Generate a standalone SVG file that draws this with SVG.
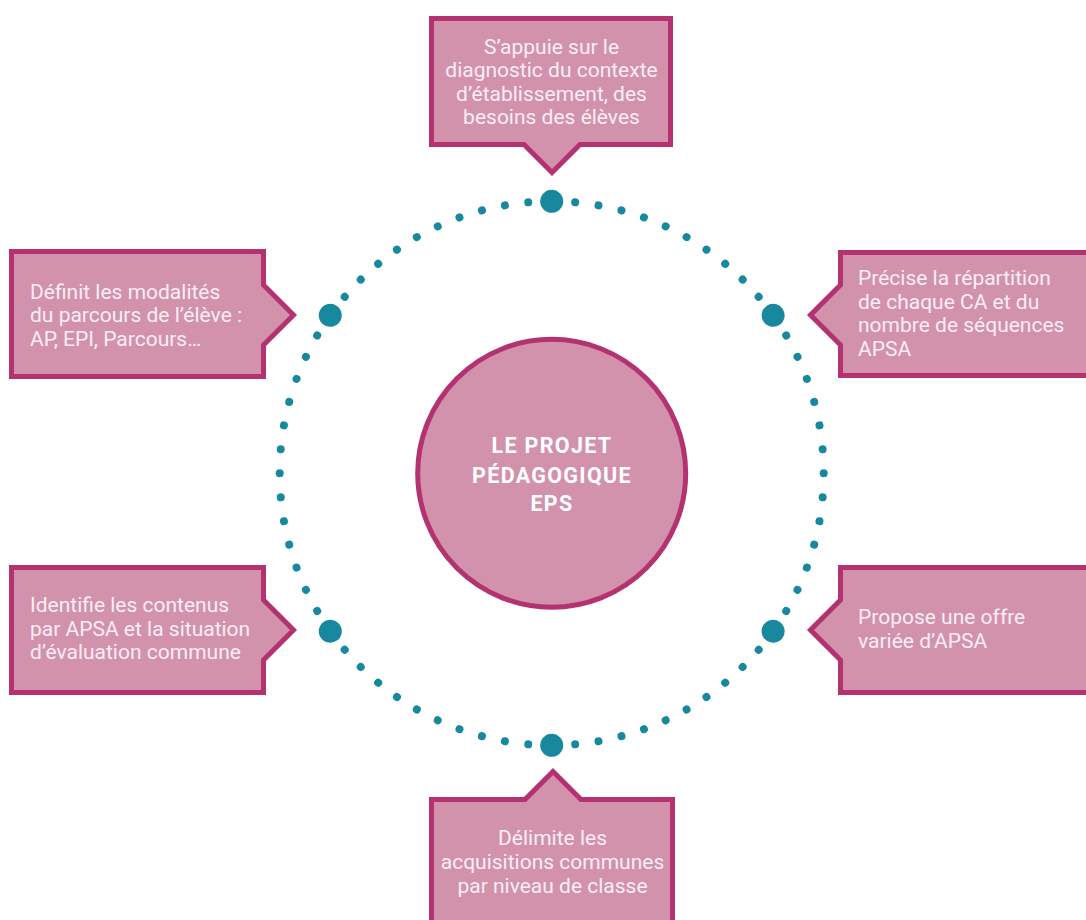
<svg xmlns="http://www.w3.org/2000/svg" xmlns:xlink="http://www.w3.org/1999/xlink" width="1086" height="920" viewBox="0 0 1086 920">
<style>
.box{fill:#d292ab;stroke:#b43270;stroke-width:5;stroke-linejoin:miter}
.txt{font-family:Roboto,"Liberation Sans",sans-serif;font-size:21px;fill:#fbeef3}
.mid{text-anchor:middle}
.ctr{font-family:Roboto,"Liberation Sans",sans-serif;font-size:21.5px;font-weight:bold;fill:#ffffff;text-anchor:middle;letter-spacing:1.3px}
.dot{fill:#18889e}
</style>
<defs>
<circle id="sd" class="dot" cx="551.7" cy="201.3" r="4"/>
<circle id="bd" class="dot" cx="551.7" cy="201.3" r="11.5"/>
</defs>
<rect width="1086" height="920" fill="#ffffff"/>
<g id="connectors">
<use href="#bd"/>
<use href="#bd" transform="rotate(54.5 551.7 473.3)"/>
<use href="#bd" transform="rotate(125.5 551.7 473.3)"/>
<use href="#bd" transform="rotate(180 551.7 473.3)"/>
<use href="#bd" transform="rotate(-54.5 551.7 473.3)"/>
<use href="#bd" transform="rotate(-125.5 551.7 473.3)"/>
<use href="#sd" transform="rotate(4.95 551.7 473.3)"/>
<use href="#sd" transform="rotate(9.91 551.7 473.3)"/>
<use href="#sd" transform="rotate(14.86 551.7 473.3)"/>
<use href="#sd" transform="rotate(19.82 551.7 473.3)"/>
<use href="#sd" transform="rotate(24.77 551.7 473.3)"/>
<use href="#sd" transform="rotate(29.73 551.7 473.3)"/>
<use href="#sd" transform="rotate(34.68 551.7 473.3)"/>
<use href="#sd" transform="rotate(39.64 551.7 473.3)"/>
<use href="#sd" transform="rotate(44.59 551.7 473.3)"/>
<use href="#sd" transform="rotate(49.55 551.7 473.3)"/>
<use href="#sd" transform="rotate(59.57 551.7 473.3)"/>
<use href="#sd" transform="rotate(64.64 551.7 473.3)"/>
<use href="#sd" transform="rotate(69.71 551.7 473.3)"/>
<use href="#sd" transform="rotate(74.79 551.7 473.3)"/>
<use href="#sd" transform="rotate(79.86 551.7 473.3)"/>
<use href="#sd" transform="rotate(84.93 551.7 473.3)"/>
<use href="#sd" transform="rotate(90 551.7 473.3)"/>
<use href="#sd" transform="rotate(95.07 551.7 473.3)"/>
<use href="#sd" transform="rotate(100.14 551.7 473.3)"/>
<use href="#sd" transform="rotate(105.21 551.7 473.3)"/>
<use href="#sd" transform="rotate(110.29 551.7 473.3)"/>
<use href="#sd" transform="rotate(115.36 551.7 473.3)"/>
<use href="#sd" transform="rotate(120.43 551.7 473.3)"/>
<use href="#sd" transform="rotate(130.45 551.7 473.3)"/>
<use href="#sd" transform="rotate(135.41 551.7 473.3)"/>
<use href="#sd" transform="rotate(140.36 551.7 473.3)"/>
<use href="#sd" transform="rotate(145.32 551.7 473.3)"/>
<use href="#sd" transform="rotate(150.27 551.7 473.3)"/>
<use href="#sd" transform="rotate(155.23 551.7 473.3)"/>
<use href="#sd" transform="rotate(160.18 551.7 473.3)"/>
<use href="#sd" transform="rotate(165.14 551.7 473.3)"/>
<use href="#sd" transform="rotate(170.09 551.7 473.3)"/>
<use href="#sd" transform="rotate(175.05 551.7 473.3)"/>
<use href="#sd" transform="rotate(-4.95 551.7 473.3)"/>
<use href="#sd" transform="rotate(-9.91 551.7 473.3)"/>
<use href="#sd" transform="rotate(-14.86 551.7 473.3)"/>
<use href="#sd" transform="rotate(-19.82 551.7 473.3)"/>
<use href="#sd" transform="rotate(-24.77 551.7 473.3)"/>
<use href="#sd" transform="rotate(-29.73 551.7 473.3)"/>
<use href="#sd" transform="rotate(-34.68 551.7 473.3)"/>
<use href="#sd" transform="rotate(-39.64 551.7 473.3)"/>
<use href="#sd" transform="rotate(-44.59 551.7 473.3)"/>
<use href="#sd" transform="rotate(-49.55 551.7 473.3)"/>
<use href="#sd" transform="rotate(-59.57 551.7 473.3)"/>
<use href="#sd" transform="rotate(-64.64 551.7 473.3)"/>
<use href="#sd" transform="rotate(-69.71 551.7 473.3)"/>
<use href="#sd" transform="rotate(-74.79 551.7 473.3)"/>
<use href="#sd" transform="rotate(-79.86 551.7 473.3)"/>
<use href="#sd" transform="rotate(-84.93 551.7 473.3)"/>
<use href="#sd" transform="rotate(-90 551.7 473.3)"/>
<use href="#sd" transform="rotate(-95.07 551.7 473.3)"/>
<use href="#sd" transform="rotate(-100.14 551.7 473.3)"/>
<use href="#sd" transform="rotate(-105.21 551.7 473.3)"/>
<use href="#sd" transform="rotate(-110.29 551.7 473.3)"/>
<use href="#sd" transform="rotate(-115.36 551.7 473.3)"/>
<use href="#sd" transform="rotate(-120.43 551.7 473.3)"/>
<use href="#sd" transform="rotate(-130.45 551.7 473.3)"/>
<use href="#sd" transform="rotate(-135.41 551.7 473.3)"/>
<use href="#sd" transform="rotate(-140.36 551.7 473.3)"/>
<use href="#sd" transform="rotate(-145.32 551.7 473.3)"/>
<use href="#sd" transform="rotate(-150.27 551.7 473.3)"/>
<use href="#sd" transform="rotate(-155.23 551.7 473.3)"/>
<use href="#sd" transform="rotate(-160.18 551.7 473.3)"/>
<use href="#sd" transform="rotate(-165.14 551.7 473.3)"/>
<use href="#sd" transform="rotate(-170.09 551.7 473.3)"/>
<use href="#sd" transform="rotate(-175.05 551.7 473.3)"/>
</g>
<g id="center">
<circle class="box" cx="551.7" cy="473.3" r="134"/>
<text class="ctr" x="552" y="453">LE PROJET</text>
<text class="ctr" x="552" y="483">PÉDAGOGIQUE</text>
<text class="ctr" x="552" y="511">EPS</text>
</g>
<g id="top">
<path class="box" d="M431.5,18.5 H670.5 V144.5 H580 L552,172.5 L524,144.5 H431.5 Z"/>
<text class="txt mid" x="551.5" y="53.5">S’appuie sur le</text>
<text class="txt mid" x="551.5" y="77">diagnostic du contexte</text>
<text class="txt mid" x="551.5" y="100.5">d’établissement, des</text>
<text class="txt mid" x="551.5" y="124">besoins des élèves</text>
</g>
<g id="left-top">
<path class="box" d="M11.5,251.5 H263.5 V285 L293.5,315 L263.5,345 V376.5 H11.5 Z"/>
<text class="txt" x="30" y="298.5">Définit les modalités</text>
<text class="txt" x="30" y="322">du parcours de l’élève :</text>
<text class="txt" x="30" y="345.5">AP, EPI, Parcours…</text>
</g>
<g id="right-top">
<path class="box" d="M1092,252.5 H840.5 V285 L810.5,315 L840.5,345 V375.5 H1092"/>
<text class="txt" x="858" y="285">Précise la répartition</text>
<text class="txt" x="858" y="308.5">de chaque CA et du</text>
<text class="txt" x="858" y="332">nombre de séquences</text>
<text class="txt" x="858" y="356">APSA</text>
</g>
<g id="left-bottom">
<path class="box" d="M11.5,567.5 H263.5 V600 L293.5,630 L263.5,660 V692.5 H11.5 Z"/>
<text class="txt" x="30" y="612">Identifie les contenus</text>
<text class="txt" x="30" y="635.5">par APSA et la situation</text>
<text class="txt" x="30" y="659">d’évaluation commune</text>
</g>
<g id="right-bottom">
<path class="box" d="M1092,567.5 H840.5 V600 L810.5,630 L840.5,660 V692.5 H1092"/>
<text class="txt" x="858" y="623.5">Propose une offre</text>
<text class="txt" x="858" y="647.5">variée d’APSA</text>
</g>
<g id="bottom">
<path class="box" d="M431.5,925 V799.5 H525 L553,771.5 L581,799.5 H672.5 V925"/>
<text class="txt mid" x="552.5" y="844.5">Délimite les</text>
<text class="txt mid" x="552.5" y="868.5">acquisitions communes</text>
<text class="txt mid" x="552.5" y="893">par niveau de classe</text>
</g>
</svg>
